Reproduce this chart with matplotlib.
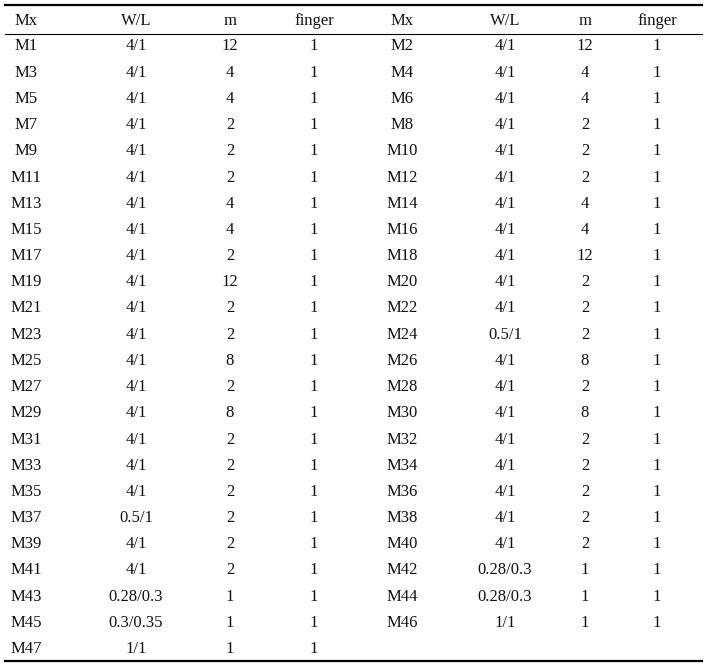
import matplotlib
matplotlib.use("Agg")
import matplotlib.pyplot as plt

headers = ["Mx", "W/L", "m", "finger", "Mx", "W/L", "m", "finger"]
left_names = [f"M{i}" for i in range(1, 48, 2)]
left_wl = ["4/1"]*18 + ["0.5/1", "4/1", "4/1", "0.28/0.3", "0.3/0.35", "1/1"]
left_m = [12, 4, 4, 2, 2, 2, 4, 4, 2, 12, 2, 2, 8, 2, 8, 2, 2, 2, 2, 2, 2, 1, 1, 1]
left_f = [1]*24
right_names = [f"M{i}" for i in range(2, 47, 2)]
right_wl = ["4/1"]*11 + ["0.5/1"] + ["4/1"]*8 + ["0.28/0.3", "0.28/0.3", "1/1"]
right_m = [12, 4, 4, 2, 2, 2, 4, 4, 12, 2, 2, 2, 8, 2, 8, 2, 2, 2, 2, 2, 1, 1, 1]
right_f = [1]*23

W, H = 707, 666
fig = plt.figure(figsize=(W/100, H/100), dpi=100)
ax = fig.add_axes([0, 0, 1, 1])
ax.set_xlim(0, W); ax.set_ylim(H, 0); ax.axis("off")

xs = [26, 136, 230, 314, 402, 505, 585, 657]
font = dict(family="Liberation Serif", fontsize=12, ha="center", va="center", color="#111")
for x, h in zip(xs, headers):
    ax.text(x, 21, h, **font)
ax.plot([5, 702], [5, 5], color="black", lw=1.6)
ax.plot([5, 702], [34, 34], color="black", lw=0.8)
ax.plot([5, 702], [661, 661], color="black", lw=1.6)

y0, dy = 46.5, 26.2
for i in range(len(left_names)):
    y = y0 + i*dy
    for x, v in zip(xs[:4], [left_names[i], left_wl[i], left_m[i], left_f[i]]):
        ax.text(x, y, str(v), **font)
for i in range(len(right_names)):
    y = y0 + i*dy
    for x, v in zip(xs[4:], [right_names[i], right_wl[i], right_m[i], right_f[i]]):
        ax.text(x, y, str(v), **font)

fig.savefig("out.png", dpi=100, facecolor="white")
